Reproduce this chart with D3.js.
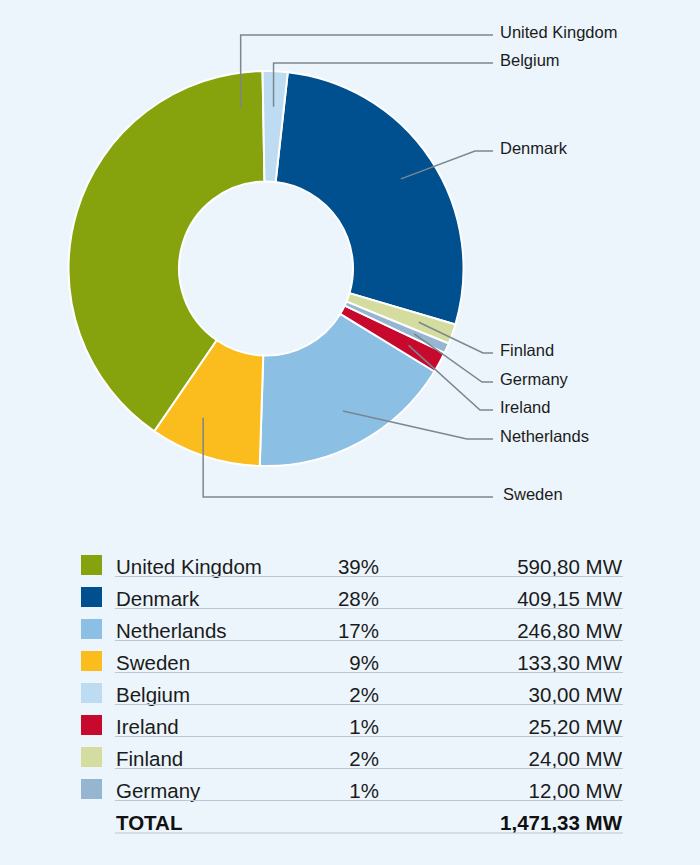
<!DOCTYPE html>
<html>
<head>
<meta charset="utf-8">
<script src="https://cdnjs.cloudflare.com/ajax/libs/d3/7.8.5/d3.min.js"></script>
<style>
  html, body { margin: 0; padding: 0; background: #ecf5fc; }
  svg { display: block; font-family: "Liberation Sans", Arial, sans-serif; }
</style>
</head>
<body>
<script>
// data, in table order (largest capacity first)
var countries = ["United Kingdom", "Denmark", "Netherlands", "Sweden", "Belgium", "Ireland", "Finland", "Germany"];
var capacityMW = [590.80, 409.15, 246.80, 133.30, 30.00, 25.20, 24.00, 12.00];
var shareLabels = ["39%", "28%", "17%", "9%", "2%", "1%", "2%", "1%"];
var colors = ["#86a20c", "#004f8f", "#8cbfe4", "#fbbc1e", "#bddbf1", "#c8092e", "#d4dd9f", "#95b5d0"];
var totalLabel = "1,471,33 MW";

// label placement for the callouts (line y, bend x, elbow style)
// "from"/"angle" move the anchor off the slice middle (degrees)
var callouts = {
    "United Kingdom": { y: 35,  elbow: true, from: "end", angle: -8 },
    "Belgium":        { y: 63,  elbow: true },
    "Denmark":        { y: 151, bendX: 475 },
    "Finland":        { y: 353, bendX: 483 },
    "Germany":        { y: 382, bendX: 482 },
    "Ireland":        { y: 410, bendX: 480 },
    "Netherlands":    { y: 439, bendX: 467 },
    "Sweden":         { y: 497, elbow: true, from: "start", angle: 21, dx: 3 }
};

var width = 700, height = 865;
var cx = 266, cy = 268.5;
var outerR = 197.5, innerR = 87, anchorR = 162;

var svg = d3.select("body").append("svg")
    .attr("width", width)
    .attr("height", height);

var rows = countries.map(function (c, i) {
    return { name: c, value: capacityMW[i], share: shareLabels[i], color: colors[i] };
});

// pie goes round alphabetically, starting just left of 12 o'clock
var start = -1 * Math.PI / 180;
var pie = d3.pie()
    .value(function (d) { return d.value; })
    .sort(function (a, b) { return d3.ascending(a.name, b.name); })
    .startAngle(start)
    .endAngle(start + 2 * Math.PI);

var arc = d3.arc().innerRadius(innerR).outerRadius(outerR);

var donut = svg.append("g")
    .attr("transform", "translate(" + cx + "," + cy + ")");

var arcs = pie(rows);

donut.selectAll("path")
    .data(arcs)
    .enter().append("path")
    .attr("d", arc)
    .style("fill", function (d) { return d.data.color; })
    .style("stroke", "#ffffff")
    .style("stroke-width", 2);

// callout lines
function polar(angleRad, r) {
    return [Math.sin(angleRad) * r, -Math.cos(angleRad) * r];
}

var lineEndX = 493 - cx;
var labelG = svg.append("g")
    .attr("transform", "translate(" + cx + "," + cy + ")");

arcs.forEach(function (d) {
    var co = callouts[d.data.name];
    var ang;
    if (co.from === "end") ang = d.endAngle + co.angle * Math.PI / 180;
    else if (co.from === "start") ang = d.startAngle + co.angle * Math.PI / 180;
    else ang = (d.startAngle + d.endAngle) / 2;
    var p = polar(ang, anchorR);
    var ly = co.y - cy;
    var pts;
    if (co.elbow) {
        pts = [p, [p[0], ly], [lineEndX, ly]];
    } else {
        pts = [p, [co.bendX - cx, ly], [lineEndX, ly]];
    }
    labelG.append("path")
        .attr("d", d3.line()(pts))
        .style("fill", "none")
        .style("stroke", "#7b868e")
        .style("stroke-width", 1.5);

    labelG.append("text")
        .attr("x", 500 - cx + (co.dx || 0))
        .attr("y", ly + 3)
        .style("font-size", "16.5px")
        .style("fill", "#1b1b1b")
        .text(d.data.name);
});

// table
var fmt = d3.format(".2f");
var row0 = 574, pitch = 32;

var y = d3.scalePoint()
    .domain(d3.range(rows.length + 1))
    .range([row0, row0 + pitch * rows.length]);

var table = svg.append("g");

var tr = table.selectAll("g.row")
    .data(rows)
    .enter().append("g")
    .attr("class", "row")
    .attr("transform", function (d, i) { return "translate(0," + y(i) + ")"; });

tr.append("rect")
    .attr("x", 81)
    .attr("y", -19)
    .attr("width", 21)
    .attr("height", 20)
    .style("fill", function (d) { return d.color; });

tr.append("text")
    .attr("x", 116)
    .style("font-size", "20.5px")
    .style("fill", "#1b1b1b")
    .text(function (d) { return d.name; });

tr.append("text")
    .attr("x", 379)
    .attr("text-anchor", "end")
    .style("font-size", "20.5px")
    .style("fill", "#1b1b1b")
    .text(function (d) { return d.share; });

tr.append("text")
    .attr("x", 622)
    .attr("text-anchor", "end")
    .style("font-size", "20.5px")
    .style("fill", "#1b1b1b")
    .text(function (d) { return fmt(d.value).replace(".", ",") + " MW"; });

tr.append("line")
    .attr("x1", 115).attr("x2", 623)
    .attr("y1", 2.5).attr("y2", 2.5)
    .style("stroke", "#b9c8d4")
    .style("stroke-width", 1);

// total row
var ty = y(rows.length);
table.append("text")
    .attr("x", 116)
    .attr("y", ty)
    .style("font-family", "'Liberation Sans Narrow', 'Liberation Sans', Arial, sans-serif")
    .style("font-weight", "bold")
    .style("font-size", "20.5px")
    .style("fill", "#111")
    .text("TOTAL");

table.append("text")
    .attr("x", 622)
    .attr("y", ty)
    .attr("text-anchor", "end")
    .style("font-weight", "bold")
    .style("font-size", "20.5px")
    .style("fill", "#111")
    .text(totalLabel);

table.append("line")
    .attr("x1", 115).attr("x2", 623)
    .attr("y1", ty + 3).attr("y2", ty + 3)
    .style("stroke", "#b9c8d4")
    .style("stroke-width", 1);
</script>
</body>
</html>
